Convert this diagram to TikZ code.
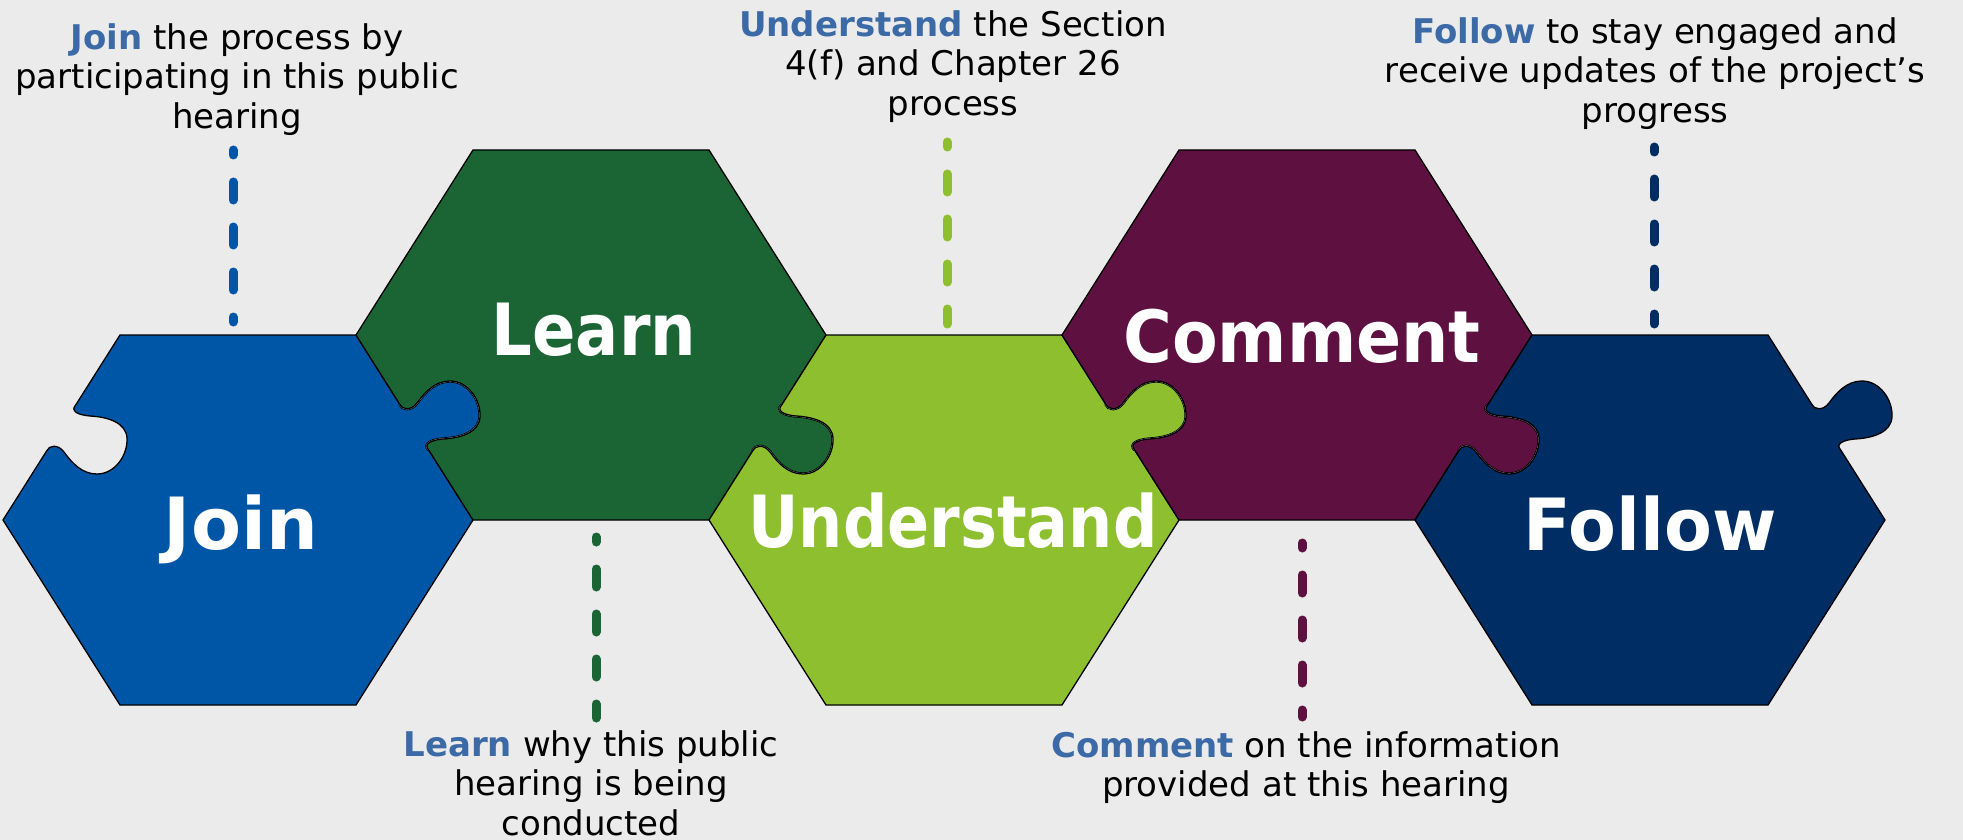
\documentclass[tikz,border=0pt]{standalone}
\usepackage{fontspec}
\setmainfont{DejaVu Sans}
\newfontfamily\hexfont[FakeStretch=0.88]{DejaVu Sans}

\definecolor{bggray}{RGB}{235,235,235}
\definecolor{joinblue}{RGB}{0,86,166}
\definecolor{learngreen}{RGB}{27,101,53}
\definecolor{understandlime}{RGB}{142,191,46}
\definecolor{commentplum}{RGB}{94,17,64}
\definecolor{follownavy}{RGB}{0,45,100}
\definecolor{wordblue}{RGB}{59,106,166}

\newcommand{\hl}[1]{\textcolor{wordblue}{\textbf{#1}}}

\tikzset{
  knob/.style={insert path={.. controls (164,-110) and (173,-109) .. (179,-117)
    .. controls (187,-128) and (197,-139) .. (212,-139)
    .. controls (230,-139) and (243,-120) .. (242,-103)
    .. controls (241,-88) and (224,-82) .. (205,-81)
    .. controls (193,-80) and (185,-76) .. (190.7,-70)}},
  hole/.style={insert path={.. controls (-189,-75) and (-180,-76) .. (-174,-68)
    .. controls (-166,-57) and (-156,-46) .. (-141,-46)
    .. controls (-123,-46) and (-110,-65) .. (-111,-82)
    .. controls (-112,-97) and (-129,-103) .. (-148,-104)
    .. controls (-160,-105) and (-168,-109) .. (-162.3,-115)}},
  piece/.style={insert path={-- (118,-185) -- (161.6,-116) [knob] -- (235,0)
    -- (118,185) -- (-118,185) -- (-235,0) -- (-191.4,-69) [hole] -- cycle}},
  edge/.style={draw=black, line width=1.3pt, line join=round},
  sliver/.style={draw=black, line width=0.9pt, double=white, double distance=1.4pt},
  hexlabel/.style={anchor=base, text=white, transform shape, xscale=#1,
    font=\hexfont\bfseries\fontsize{72}{80}\selectfont},
  hexlabel/.default=1,
  note/.style={anchor=north, align=center, font=\fontsize{34}{39.5}\selectfont},
  dashline/.style={line width=9pt, line cap=round, dash pattern=on 18pt off 27pt, dash phase=13pt}
}

\begin{document}
\begin{tikzpicture}[x=1pt,y=-1pt]
\tikzstyle{every node}+=[inner sep=0pt]
\path[use as bounding box, fill=bggray] (0,0) rectangle (1963,840);

% puzzle pieces, bottom row as drawn, top row flipped
\begin{scope}[shift={(238,520)}]
\filldraw[edge, fill=joinblue] (-118,-185) [piece];
\draw[sliver] (161.6,-116) [knob];
\end{scope}
\begin{scope}[shift={(591,335)}, yscale=-1]
\filldraw[edge, fill=learngreen] (-118,-185) [piece];
\draw[sliver] (161.6,-116) [knob];
\end{scope}
\begin{scope}[shift={(944,520)}]
\filldraw[edge, fill=understandlime] (-118,-185) [piece];
\draw[sliver] (161.6,-116) [knob];
\end{scope}
\begin{scope}[shift={(1297,335)}, yscale=-1]
\filldraw[edge, fill=commentplum] (-118,-185) [piece];
\draw[sliver] (161.6,-116) [knob];
\end{scope}
\begin{scope}[shift={(1650,520)}]
\filldraw[edge, fill=follownavy] (-118,-185) [piece];
\end{scope}

% labels on the pieces
\node[hexlabel=1.15] (join) at (241,549) {Join};
\node[hexlabel=1.01] (learn) at (594,355) {Learn};
\node[hexlabel=0.98] (understand) at (953,547) {Understand};
\node[hexlabel=1.05] (comment) at (1302,362) {Comment};
\node[hexlabel=1.1] (follow) at (1650,550) {Follow};

% dashed leaders
\coordinate (j1) at (233,150);
\coordinate (j2) at (233,322);
\coordinate (l1) at (596,537);
\coordinate (l2) at (596,718);
\coordinate (u1) at (947,142);
\coordinate (u2) at (947,324);
\coordinate (c1) at (1302,543);
\coordinate (c2) at (1302,717);
\coordinate (f1) at (1654,147);
\coordinate (f2) at (1654,324);
\draw[dashline, joinblue] (j1) -- (j2);
\draw[dashline, learngreen] (l1) -- (l2);
\draw[dashline, understandlime] (u1) -- (u2);
\draw[dashline, commentplum] (c1) -- (c2);
\draw[dashline, follownavy] (f1) -- (f2);

% texts
\node[note] (jointxt) at (237,23) {\hl{Join} the process by\\participating in this public\\hearing};
\node[note] (understandtxt) at (953,10) {\hl{Understand} the Section\\4(f) and Chapter 26\\process};
\node[note] (followtxt) at (1655,17) {\hl{Follow} to stay engaged and\\receive updates of the project’s\\progress};
\node[note] (learntxt) at (591,730) {\hl{Learn} why this public\\hearing is being\\conducted};
\node[note] (commenttxt) at (1306,731) {\hl{Comment} on the information\\provided at this hearing};
\end{tikzpicture}
\end{document}
